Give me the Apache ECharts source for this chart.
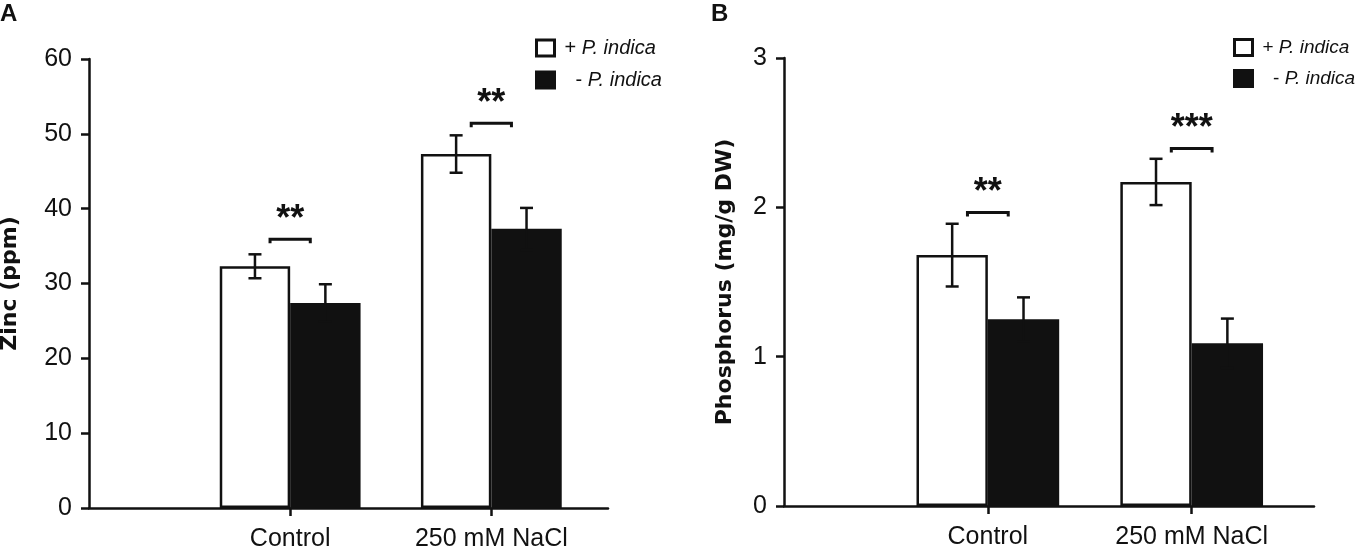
<!DOCTYPE html>
<html>
<head>
<meta charset="utf-8">
<script src="https://cdn.jsdelivr.net/npm/echarts@6/dist/echarts.min.js"></script>
<title>Zinc and phosphorus</title>
<style>html,body{margin:0;padding:0;background:#fff;}</style>
</head>
<body>
<div id="main" style="width:1356px;height:546px;"></div>
<script type="text/javascript">

    var categories = ['Control', '250 mM NaCl'];
    var seriesNames = ['+ P. indica', '- P. indica'];

    // panel A - zinc (ppm)
    var zincPlus = [32.3, 47.3];
    var zincPlusErr = [1.6, 2.5];
    var zincMinus = [27.4, 37.3];
    var zincMinusErr = [2.5, 2.8];
    var zincBracket = [35.9, 51.4];
    var zincStarsAt = [39.5, 55.0];
    var zincStars = ['**', '**'];
    var zincTicks = [0, 10, 20, 30, 40, 50, 60];

    // panel B - phosphorus (mg/g DW)
    var phosPlus = [1.68, 2.17];
    var phosPlusErr = [0.21, 0.155];
    var phosMinus = [1.25, 1.09];
    var phosMinusErr = [0.147, 0.165];
    var phosBracket = [1.965, 2.394];
    var phosStarsAt = [2.15, 2.58];
    var phosStars = ['**', '***'];
    var phosTicks = [0, 1, 2, 3];

    var ink = '#111';
    var sans = '"Liberation Sans", Arial, Helvetica, sans-serif';

    function barData(vals) {
        return vals.map(function (v, i) { return [i + 1, v]; });
    }
    // bar centres sit 0.175 either side of the group (bars are 35% of a band)
    function errData(means, errs, off) {
        return means.map(function (m, i) { return [i + 1 + off, m, errs[i]]; });
    }
    function bracketData(at, starsAt) {
        return at.map(function (y, i) { return [i + 1, y, starsAt[i]]; });
    }

    function renderErr(params, api) {
        var x = api.value(0), m = api.value(1), e = api.value(2);
        var hi = api.coord([x, m + e]);
        var lo = api.coord([x, m - e]);
        var w = 6.5;
        var st = { stroke: ink, lineWidth: 2.5 };
        return {
            type: 'group',
            children: [
                { type: 'line', shape: { x1: hi[0], y1: hi[1], x2: lo[0], y2: lo[1] }, style: st },
                { type: 'line', shape: { x1: hi[0] - w, y1: hi[1], x2: hi[0] + w, y2: hi[1] }, style: st },
                { type: 'line', shape: { x1: lo[0] - w, y1: lo[1], x2: lo[0] + w, y2: lo[1] }, style: st }
            ]
        };
    }

    function bracketRenderer(stars) {
        return function (params, api) {
            var x = api.value(0);
            var a = api.coord([x - 0.1, api.value(1)]);
            var b = api.coord([x + 0.1, api.value(1)]);
            var s = api.coord([x, api.value(2)]);
            var st = { stroke: ink, lineWidth: 3, fill: null };
            return {
                type: 'group',
                children: [
                    { type: 'polyline', shape: { points: [[a[0], a[1] + 4], [a[0], a[1]], [b[0], b[1]], [b[0], b[1] + 4]] }, style: st },
                    { type: 'text', x: s[0], y: s[1] + 8, style: {
                        text: stars[params.dataIndex], fill: ink,
                        font: 'bold 36px ' + sans, align: 'center', verticalAlign: 'middle' } }
                ]
            };
        };
    }

    function xAxisFor(gi, max) {
        return {
            type: 'value', gridIndex: gi, min: 0, max: max, interval: 1,
            axisLine: { show: true, onZero: false, lineStyle: { color: ink, width: 2.5 } },
            axisTick: { show: true, length: 8, customValues: [1, 2], lineStyle: { color: ink, width: 2.5 } },
            axisLabel: {
                customValues: [1, 2], margin: 19, fontSize: 25, color: ink, fontFamily: sans,
                formatter: function (v) { return categories[Math.round(v) - 1] || ''; }
            },
            splitLine: { show: false }
        };
    }

    function yAxisFor(gi, ticks, name, gap) {
        return {
            type: 'value', gridIndex: gi, min: ticks[0], max: ticks[ticks.length - 1],
            interval: ticks[1] - ticks[0],
            name: name, nameLocation: 'middle', nameGap: gap,
            nameTextStyle: { fontFamily: '"DejaVu Sans", sans-serif', fontWeight: 'bold', fontSize: 22, color: ink },
            axisLine: { show: true, lineStyle: { color: ink, width: 2.5 } },
            axisTick: { show: true, length: 8, lineStyle: { color: ink, width: 2.5 } },
            axisLabel: { margin: 17, fontSize: 25, color: ink, fontFamily: sans },
            splitLine: { show: false }
        };
    }

    function legendAt(left, top, size) {
        return {
            left: left, top: top, padding: 0, orient: 'vertical', icon: 'rect',
            itemWidth: 18, itemHeight: 16, itemGap: 12, selectedMode: false,
            data: seriesNames,
            itemStyle: { borderWidth: 3, borderColor: ink },
            textStyle: {
                fontSize: size, color: ink, fontFamily: sans,
                rich: {
                    n: { fontSize: size, color: ink, fontFamily: sans, padding: [0, 0, 0, 5] },
                    i: { fontSize: size, color: ink, fontFamily: sans, fontStyle: 'italic' }
                }
            },
            formatter: function (name) {
                return name.charAt(0) === '+' ? '{n|+ }{i|P. indica}' : '{n|  - }{i|P. indica}';
            }
        };
    }

    function barsFor(gi, plus, minus) {
        return [
            {
                name: seriesNames[0], type: 'bar', xAxisIndex: gi, yAxisIndex: gi,
                data: barData(plus), barWidth: '35%', barGap: '0%',
                itemStyle: { color: '#fff', borderColor: ink, borderWidth: 2.5 }
            },
            {
                name: seriesNames[1], type: 'bar', xAxisIndex: gi, yAxisIndex: gi,
                data: barData(minus), barWidth: '35%', barGap: '0%',
                itemStyle: { color: ink }
            }
        ];
    }

    function extrasFor(gi, plus, plusErr, minus, minusErr, at, starsAt, stars) {
        return [
            { type: 'custom', xAxisIndex: gi, yAxisIndex: gi, z: 5, renderItem: renderErr,
              data: errData(plus, plusErr, -0.175) },
            { type: 'custom', xAxisIndex: gi, yAxisIndex: gi, z: 5, renderItem: renderErr,
              data: errData(minus, minusErr, 0.175) },
            { type: 'custom', xAxisIndex: gi, yAxisIndex: gi, z: 5, clip: false,
              renderItem: bracketRenderer(stars), data: bracketData(at, starsAt) }
        ];
    }

    var myChart = echarts.init(document.getElementById('main'));

    var option = {
        animation: false,
        backgroundColor: '#fff',
        title: [
            { text: 'A', left: 0, top: 2, padding: 0, textStyle: { fontSize: 24, fontWeight: 'bold', color: ink, fontFamily: sans } },
            { text: 'B', left: 711, top: 2, padding: 0, textStyle: { fontSize: 24, fontWeight: 'bold', color: ink, fontFamily: sans } }
        ],
        legend: [legendAt(535, 38, 20), legendAt(1233, 38, 19)],
        grid: [
            { left: 89, top: 59, width: 519, height: 449, outerBoundsMode: 'none' },
            { left: 784, top: 58, width: 530, height: 448, outerBoundsMode: 'none' }
        ],
        xAxis: [xAxisFor(0, 2.58), xAxisFor(1, 2.6)],
        yAxis: [
            yAxisFor(0, zincTicks, 'Zinc (ppm)', 68),
            yAxisFor(1, phosTicks, 'Phosphorus (mg/g DW)', 48)
        ],
        series: [].concat(
            barsFor(0, zincPlus, zincMinus),
            extrasFor(0, zincPlus, zincPlusErr, zincMinus, zincMinusErr, zincBracket, zincStarsAt, zincStars),
            barsFor(1, phosPlus, phosMinus),
            extrasFor(1, phosPlus, phosPlusErr, phosMinus, phosMinusErr, phosBracket, phosStarsAt, phosStars)
        )
    };
    myChart.setOption(option);

</script>
</body>
</html>
